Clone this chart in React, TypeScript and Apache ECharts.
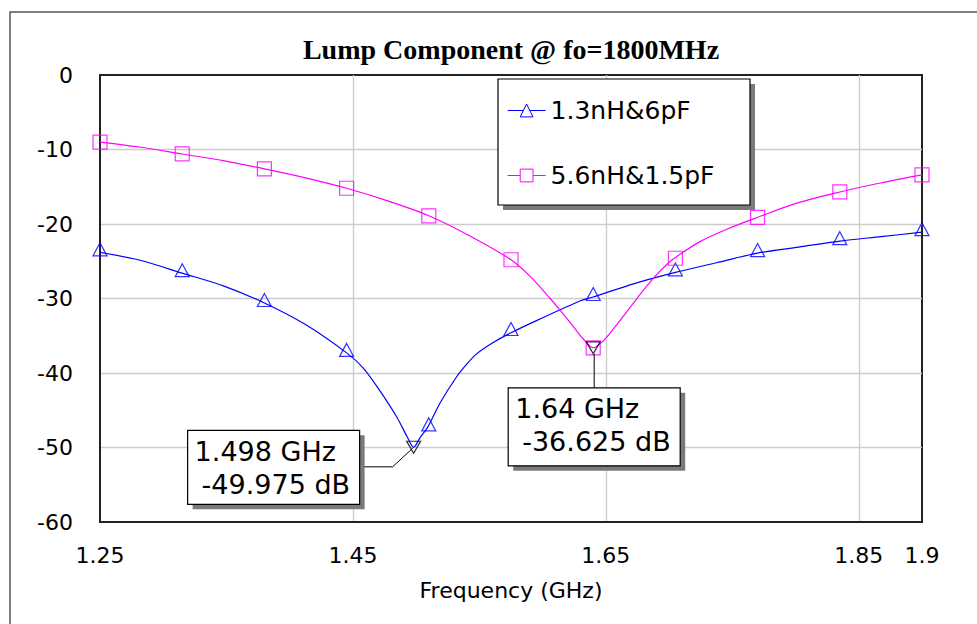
import React, { useEffect, useRef } from 'react';
import * as echarts from 'echarts';

const TITLE = 'Lump Component @ fo=1800MHz';
const X_NAME = 'Frequency (GHz)';
const SERIES_NAMES = ['1.3nH&6pF', '5.6nH&1.5pF'];

// blue curve (1.3nH & 6pF)
const blueFreq = [1.25, 1.2825, 1.315, 1.3475, 1.38, 1.4125, 1.445, 1.458, 1.471, 1.485, 1.493, 1.498, 1.503, 1.509, 1.519, 1.532, 1.54, 1.548, 1.56, 1.575, 1.596, 1.63, 1.64, 1.6725, 1.705, 1.7375, 1.77, 1.8025, 1.835, 1.8675, 1.9];
const blueDb = [-23.8, -24.9, -26.6, -28.3, -30.6, -33.5, -37.3, -39.3, -42.3, -46.0, -48.6, -49.975, -48.7, -47.3, -44.0, -40.5, -38.8, -37.4, -36.0, -34.6, -32.9, -30.3, -29.8, -28.0, -26.5, -25.2, -23.9, -23.1, -22.3, -21.7, -21.1];

// magenta curve (5.6nH & 1.5pF)
const magentaFreq = [1.25, 1.2825, 1.315, 1.3475, 1.38, 1.4125, 1.445, 1.4775, 1.51, 1.5425, 1.575, 1.59, 1.606, 1.614, 1.624, 1.632, 1.64, 1.648, 1.655, 1.661, 1.675, 1.688, 1.699, 1.705, 1.724, 1.747, 1.77, 1.801, 1.835, 1.867, 1.9];
const magentaDb = [-9.0, -9.7, -10.6, -11.5, -12.6, -13.8, -15.2, -16.9, -18.9, -21.6, -24.8, -27.0, -30.0, -31.6, -33.7, -35.4, -36.625, -35.7, -34.3, -33.0, -29.9, -27.2, -25.3, -24.5, -22.4, -20.6, -19.1, -17.2, -15.7, -14.5, -13.4];

// marker points
const markerFreq = [1.25, 1.315, 1.38, 1.445, 1.51, 1.575, 1.64, 1.705, 1.77, 1.835, 1.9];
const blueMarkerDb = [-23.8, -26.6, -30.6, -37.3, -47.3, -34.5, -29.8, -26.5, -23.9, -22.3, -21.1];
const magentaMarkerDb = [-9.0, -10.6, -12.6, -15.2, -18.9, -24.8, -36.625, -24.6, -19.1, -15.7, -13.4];

// minimum markers
const minFreq = [1.498, 1.64];
const minDb = [-49.975, -36.625];

const X_MIN = 1.25;
const X_MAX = 1.9;
const X_STEP = 0.2;
const Y_MIN = -60;
const Y_MAX = 0;
const Y_STEP = 10;

const FONT = 'DejaVu Sans';
const BLUE = '#0000ff';
const MAGENTA = '#ff00ff';

const zip = (a: number[], b: number[]) => a.map((v, i) => [v, b[i]]);

export default function App() {
  const ref = useRef<HTMLDivElement>(null);
  useEffect(() => {
    document.body.style.margin = '0';
    const chart = echarts.init(ref.current as HTMLDivElement, null, { renderer: 'svg' });
    const option: any = {
      animation: false,
      backgroundColor: '#ffffff',
      title: {
        text: TITLE,
        left: 511,
        top: 35,
        textAlign: 'center',
        padding: 0,
        textStyle: { fontFamily: 'Liberation Serif', fontWeight: 'bold', fontSize: 28, color: '#000' },
      },
      grid: {
        left: 100,
        top: 75,
        width: 822,
        height: 447,
        show: true,
        borderColor: '#222',
        borderWidth: 2,
        backgroundColor: 'transparent',
      },
      legend: {
        orient: 'vertical',
        left: 507,
        top: 98,
        itemWidth: 38,
        itemHeight: 16,
        itemGap: 40,
        padding: 0,
        z: 10,
        selectedMode: false,
        textStyle: { fontFamily: FONT, fontSize: 25, color: '#000' },
        data: [
          {
            name: SERIES_NAMES[0],
            itemStyle: { color: '#fff', borderColor: BLUE, borderWidth: 1 },
            lineStyle: { color: BLUE, width: 1.2 },
          },
          {
            name: SERIES_NAMES[1],
            itemStyle: { color: '#fff', borderColor: MAGENTA, borderWidth: 1 },
            lineStyle: { color: MAGENTA, width: 1.2 },
          },
        ],
      },
      xAxis: {
        type: 'value',
        min: X_MIN,
        max: X_MAX,
        interval: X_STEP,
        name: X_NAME,
        nameLocation: 'middle',
        nameGap: 57,
        nameTextStyle: { fontFamily: FONT, fontSize: 22, color: '#000' },
        axisLine: { show: true, onZero: false, lineStyle: { color: '#222', width: 2 } },
        axisTick: { show: false },
        axisLabel: {
          margin: 22,
          fontFamily: FONT,
          fontSize: 22,
          color: '#000',
          showMaxLabel: true,
          showMinLabel: true,
          formatter: (v: number) => String(parseFloat(v.toFixed(2))),
        },
        splitLine: { show: true, showMinLine: false, showMaxLine: false, lineStyle: { color: '#cccccc', width: 1.3 } },
      },
      yAxis: {
        type: 'value',
        min: Y_MIN,
        max: Y_MAX,
        interval: Y_STEP,
        axisLine: { show: true, onZero: false, lineStyle: { color: '#222', width: 2 } },
        axisTick: { show: false },
        axisLabel: { margin: 27, fontFamily: FONT, fontSize: 22, color: '#000' },
        splitLine: { show: true, showMinLine: false, showMaxLine: false, lineStyle: { color: '#cccccc', width: 1.3 } },
      },
      series: [
        {
          name: SERIES_NAMES[0],
          type: 'line',
          data: zip(blueFreq, blueDb),
          symbol: 'triangle',
          symbolSize: [14, 13],
          showSymbol: false,
          smooth: 0.3,
          silent: true,
          lineStyle: { color: BLUE, width: 1.2 },
          itemStyle: { color: BLUE },
          z: 2,
        },
        {
          name: SERIES_NAMES[1],
          type: 'line',
          data: zip(magentaFreq, magentaDb),
          symbol: 'rect',
          symbolSize: 14,
          showSymbol: false,
          smooth: 0.3,
          silent: true,
          lineStyle: { color: MAGENTA, width: 1.2 },
          itemStyle: { color: MAGENTA },
          z: 2,
        },
        {
          name: SERIES_NAMES[0],
          type: 'scatter',
          data: zip(markerFreq, blueMarkerDb),
          symbol: 'triangle',
          symbolSize: [14, 13],
          symbolOffset: [0, -3],
          silent: true,
          itemStyle: { color: 'rgba(0,0,0,0)', borderColor: BLUE, borderWidth: 1.2 },
          z: 3,
        },
        {
          name: SERIES_NAMES[1],
          type: 'scatter',
          data: zip(markerFreq, magentaMarkerDb),
          symbol: 'rect',
          symbolSize: 14,
          silent: true,
          itemStyle: { color: 'rgba(0,0,0,0)', borderColor: MAGENTA, borderWidth: 1.2 },
          z: 3,
        },
        {
          name: 'min',
          type: 'scatter',
          data: zip(minFreq, minDb),
          symbol: 'triangle',
          symbolRotate: 180,
          symbolSize: [14, 12],
          silent: true,
          itemStyle: { color: 'rgba(0,0,0,0)', borderColor: '#000', borderWidth: 1.2 },
          z: 5,
        },
      ],
    };
    chart.setOption(option);

    // annotation layout (offsets relative to the marker pixel position)
    const annLayout = [
      { dx: -226, dy: -17, w: 172, h: 74, leader: 'elbow' },
      { dx: -85, dy: 40, w: 172, h: 78, leader: 'vertical' },
    ];
    const elements: any[] = [
      {
        type: 'rect',
        silent: true,
        shape: { x: 10, y: 12, width: 1100, height: 800 },
        style: { fill: 'none', stroke: '#555', lineWidth: 1.5 },
        z: 1,
      },
      {
        type: 'rect',
        silent: true,
        shape: { x: 503, y: 84, width: 252, height: 126 },
        style: { fill: '#7a7a7a' },
        z: 5,
      },
      {
        type: 'rect',
        silent: true,
        shape: { x: 498, y: 79, width: 252, height: 126 },
        style: { fill: '#fff', stroke: '#000', lineWidth: 1.2 },
        z: 5,
      },
    ];
    minFreq.forEach((f, i) => {
      const p = chart.convertToPixel({ gridIndex: 0 }, [f, minDb[i]]) as number[];
      const L = annLayout[i];
      const bx = p[0] + L.dx;
      const by = p[1] + L.dy;
      if (L.leader === 'elbow') {
        elements.push({
          type: 'polyline',
          silent: true,
          shape: { points: [[bx + L.w, p[1] + 19.5], [p[0] - 21, p[1] + 19.5], [p[0] - 1, p[1] + 1]] },
          style: { fill: 'none', stroke: '#000', lineWidth: 1 },
          z: 6,
        });
      } else {
        elements.push({
          type: 'line',
          silent: true,
          shape: { x1: p[0] + 1, y1: p[1] + 6, x2: p[0] + 1, y2: by },
          style: { stroke: '#000', lineWidth: 1 },
          z: 6,
        });
      }
      elements.push({
        type: 'rect',
        silent: true,
        shape: { x: bx + 5, y: by + 5, width: L.w, height: L.h },
        style: { fill: '#7a7a7a' },
        z: 6,
      });
      elements.push({
        type: 'rect',
        silent: true,
        shape: { x: bx, y: by, width: L.w, height: L.h },
        style: { fill: '#fff', stroke: '#000', lineWidth: 1.2 },
        z: 6,
      });
      elements.push({
        type: 'text',
        silent: true,
        x: bx + 7,
        y: by + 21,
        style: { text: `${f} GHz`, fontFamily: FONT, fontSize: 27, fill: '#000', verticalAlign: 'middle', align: 'left' },
        z: 7,
      });
      elements.push({
        type: 'text',
        silent: true,
        x: bx + 14,
        y: by + 54,
        style: { text: `${minDb[i]} dB`, fontFamily: FONT, fontSize: 27, fill: '#000', verticalAlign: 'middle', align: 'left' },
        z: 7,
      });
    });
    chart.setOption({ graphic: { elements } });

    return () => {
      chart.dispose();
    };
  }, []);
  return (
    <div
      ref={ref}
      style={{ position: 'absolute', left: 0, top: 0, width: 977, height: 624, background: '#fff' }}
    />
  );
}
